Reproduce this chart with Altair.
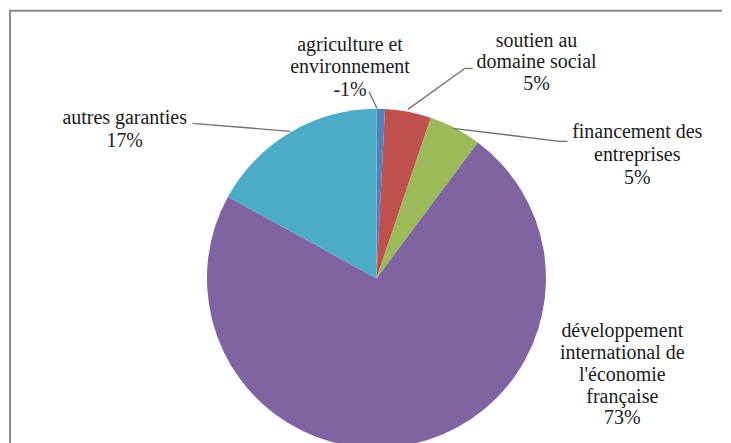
import altair as alt
import pandas as pd

# ---- data ----
categories = [
    "agriculture et environnement",
    "soutien au domaine social",
    "financement des entreprises",
    "développement international de l'économie française",
    "autres garanties",
]
shares = [0.8, 4.4, 5.0, 72.8, 17.0]
pct_labels = ["-1%", "5%", "5%", "73%", "17%"]
label_lines = [
    ["agriculture et", "environnement"],
    ["soutien au", "domaine social"],
    ["financement des", "entreprises"],
    ["développement", "international de", "l'économie", "française"],
    ["autres garanties"],
]
colors = ["#4F81BD", "#C0504D", "#9BBB59", "#8064A2", "#4BACC6"]

# ---- layout (pixels, chart coordinates) ----
W, H = 715, 460
CX, CY, R = 368.5, 270.5, 170
label_anchor = [  # center x, first baseline, line step
    (342, 42, 23),
    (529, 38, 22),
    (630, 130, 23),
    (615, 329, 22),
    (116, 116, 23),
]
leaders = [
    [(361, 83), (369, 100)],
    [(400, 101), (457, 60), (465, 60)],
    [(445, 120), (552, 133), (560, 133)],
    [(184, 115), (282, 123)],
]

one = pd.DataFrame({"a": [0]})

pie_df = pd.DataFrame({
    "cat": categories,
    "share": shares,
    "idx": list(range(len(categories))),
})

pie = alt.Chart(pie_df).mark_arc(outerRadius=R).encode(
    theta=alt.Theta("share:Q", stack=True),
    order=alt.Order("idx:Q"),
    color=alt.Color("cat:N", scale=alt.Scale(domain=categories, range=colors), legend=None),
    x=alt.value(CX),
    y=alt.value(CY),
)

layers = []
# frame (top and left edges only; the rest lies outside the picture)
layers.append(alt.Chart(one).mark_rule(color="#8c8c8c", strokeWidth=2).encode(
    x=alt.value(0), x2=alt.value(W), y=alt.value(2)))
layers.append(alt.Chart(one).mark_rule(color="#8c8c8c", strokeWidth=2).encode(
    x=alt.value(1), y=alt.value(1), y2=alt.value(H)))
layers.append(pie)

# leader lines
for seg in leaders:
    for (x1, y1), (x2, y2) in zip(seg[:-1], seg[1:]):
        layers.append(alt.Chart(one).mark_rule(color="#707070", strokeWidth=1.3).encode(
            x=alt.value(x1), y=alt.value(y1), x2=alt.value(x2), y2=alt.value(y2)))

# labels
for i, lines in enumerate(label_lines):
    x0, y0, step = label_anchor[i]
    for j, t in enumerate(lines + [pct_labels[i]]):
        layers.append(alt.Chart(pd.DataFrame({"t": [t]})).mark_text(
            font="Liberation Serif", fontSize=20, color="#1a1a1a",
            align="center", baseline="alphabetic",
        ).encode(x=alt.value(x0), y=alt.value(y0 + j * step), text="t:N"))

chart = (
    alt.layer(*layers)
    .properties(width=W, height=H, padding=0)
    .configure_view(stroke="transparent")
)

chart.save("out.html", embed_options={"renderer": "svg", "actions": False})
